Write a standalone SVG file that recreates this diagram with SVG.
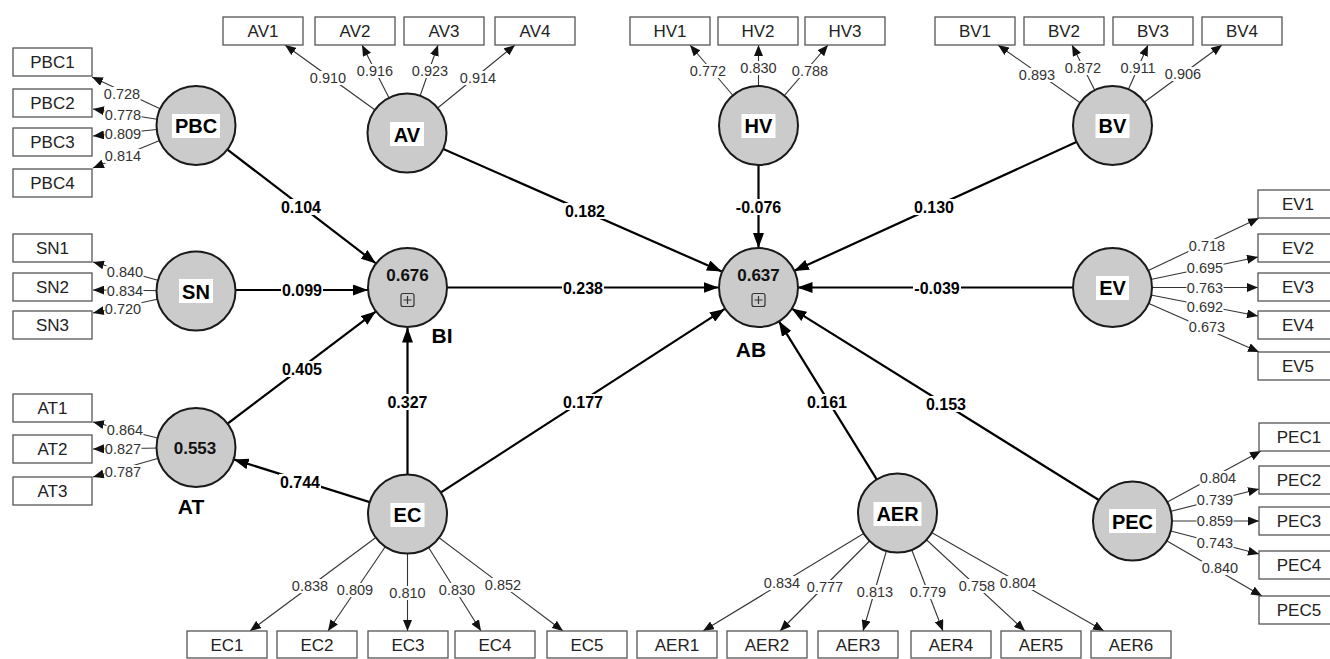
<svg xmlns="http://www.w3.org/2000/svg" width="1330" height="659" viewBox="0 0 1330 659">
<style>
.box rect{fill:#fff;stroke:#555;stroke-width:1.3}
.box text{font-family:"Liberation Sans",Arial,sans-serif;font-size:17px;fill:#222;text-anchor:middle}
.lat circle{fill:#cbcbcb;stroke:#1a1a1a;stroke-width:2}
.lat rect.bg{fill:#fff}
.lat text.n{font-family:"Liberation Sans",Arial,sans-serif;font-size:20px;font-weight:bold;fill:#000;text-anchor:middle}
.lat text.r{font-family:"Liberation Sans",Arial,sans-serif;font-size:17px;font-weight:bold;fill:#111;text-anchor:middle}
.lat text.t{font-family:"Liberation Sans",Arial,sans-serif;font-size:21px;font-weight:bold;fill:#000;text-anchor:middle}
.lat .ic{fill:none;stroke:#333;stroke-width:1.2}
.m{stroke:#333;stroke-width:1.1;fill:none;marker-end:url(#am)}
.s{stroke:#000;stroke-width:2.2;fill:none;marker-end:url(#as)}
.ll rect{fill:#fff}
.ll text{font-family:"Liberation Sans",Arial,sans-serif;font-size:14.5px;fill:#333;text-anchor:middle}
.sl rect{fill:#fff}
.sl text{font-family:"Liberation Sans",Arial,sans-serif;font-size:16px;font-weight:bold;fill:#000;text-anchor:middle}
</style>
<defs>
<marker id="am" viewBox="0 0 11 9" refX="11" refY="4.5" markerWidth="11" markerHeight="9" markerUnits="userSpaceOnUse" orient="auto"><path d="M0,0 L11,4.5 L0,9 z" fill="#111"/></marker>
<marker id="as" viewBox="0 0 15 11" refX="15" refY="5.5" markerWidth="15" markerHeight="11" markerUnits="userSpaceOnUse" orient="auto"><path d="M0,0 L15,5.5 L0,11 z" fill="#000"/></marker>
</defs>
<rect x="0" y="0" width="1330" height="659" fill="#fff"/>

<g id="connectors">
<!-- measurement lines -->
<path class="m" d="M196,125.5 L92,77"/>
<path class="m" d="M196,125.5 L93,109"/>
<path class="m" d="M196,125.5 L93,136"/>
<path class="m" d="M196,125.5 L93,168"/>
<path class="m" d="M196,291 L93,262"/>
<path class="m" d="M196,291 L93,290"/>
<path class="m" d="M196,291 L93,313"/>
<path class="m" d="M196,447.5 L93,422"/>
<path class="m" d="M196,447.5 L93,449"/>
<path class="m" d="M196,447.5 L93,477"/>
<path class="m" d="M407,133 L285,45"/>
<path class="m" d="M407,133 L362,45"/>
<path class="m" d="M407,133 L438,45"/>
<path class="m" d="M407,133 L515,45"/>
<path class="m" d="M758.5,125.5 L690,45"/>
<path class="m" d="M758.5,125.5 L758.5,45"/>
<path class="m" d="M758.5,125.5 L828,45"/>
<path class="m" d="M1112.5,125.5 L998,45"/>
<path class="m" d="M1112.5,125.5 L1072,45"/>
<path class="m" d="M1112.5,125.5 L1148,45"/>
<path class="m" d="M1112.5,125.5 L1222,45"/>
<path class="m" d="M1112.5,287.5 L1259,218"/>
<path class="m" d="M1112.5,287.5 L1258,257"/>
<path class="m" d="M1112.5,287.5 L1258,287.5"/>
<path class="m" d="M1112.5,287.5 L1258,316"/>
<path class="m" d="M1112.5,287.5 L1259,352"/>
<path class="m" d="M1132.5,521 L1261,451"/>
<path class="m" d="M1132.5,521 L1259,489"/>
<path class="m" d="M1132.5,521 L1259,521"/>
<path class="m" d="M1132.5,521 L1259,554"/>
<path class="m" d="M1132.5,521 L1262,596"/>
<path class="m" d="M407.5,514 L250,631"/>
<path class="m" d="M407.5,514 L328,631"/>
<path class="m" d="M407.5,514 L407.5,631"/>
<path class="m" d="M407.5,514 L481,631"/>
<path class="m" d="M407.5,514 L563,631"/>
<path class="m" d="M897.5,513 L703,631"/>
<path class="m" d="M897.5,513 L780,631"/>
<path class="m" d="M897.5,513 L863,631"/>
<path class="m" d="M897.5,513 L943,631"/>
<path class="m" d="M897.5,513 L1025,631"/>
<path class="m" d="M897.5,513 L1104,631"/>
<!-- structural paths -->
<path class="s" d="M196,125.5 L376,263.5"/>
<path class="s" d="M196,290 L368,290"/>
<path class="s" d="M196,447.5 L376,311.3"/>
<path class="s" d="M407.5,514 L407.5,327.5"/>
<path class="s" d="M407.5,514 L233.7,459.4"/>
<path class="s" d="M407.5,287.5 L718.5,287.5"/>
<path class="s" d="M407,133 L721.8,271.6"/>
<path class="s" d="M758.5,125.5 L758.5,248"/>
<path class="s" d="M1112.5,125.5 L793.9,271.1"/>
<path class="s" d="M1112.5,287.5 L797.5,287.5"/>
<path class="s" d="M407.5,514 L724.8,308.9"/>
<path class="s" d="M897.5,513 L778.8,321.1"/>
<path class="s" d="M1132.5,521 L791.5,308.4"/>
<!-- loading labels -->
<g class="ll">
<rect x="103.5" y="87" width="37" height="14"/><text x="122" y="99.2">0.728</text>
<rect x="104.5" y="108" width="37" height="14"/><text x="123" y="120.2">0.778</text>
<rect x="104.5" y="127" width="37" height="14"/><text x="123" y="139.2">0.809</text>
<rect x="104.5" y="149" width="37" height="14"/><text x="123" y="161.2">0.814</text>
<rect x="106.5" y="265" width="37" height="14"/><text x="125" y="277.2">0.840</text>
<rect x="106.5" y="284" width="37" height="14"/><text x="125" y="296.2">0.834</text>
<rect x="104.5" y="302" width="37" height="14"/><text x="123" y="314.2">0.720</text>
<rect x="106.5" y="423" width="37" height="14"/><text x="125" y="435.2">0.864</text>
<rect x="104.5" y="442" width="37" height="14"/><text x="123" y="454.2">0.827</text>
<rect x="104.5" y="465" width="37" height="14"/><text x="123" y="477.2">0.787</text>
<rect x="309.5" y="71" width="37" height="14"/><text x="328" y="83.2">0.910</text>
<rect x="356.5" y="64" width="37" height="14"/><text x="375" y="76.2">0.916</text>
<rect x="411.5" y="64" width="37" height="14"/><text x="430" y="76.2">0.923</text>
<rect x="459.5" y="71" width="37" height="14"/><text x="478" y="83.2">0.914</text>
<rect x="689.5" y="64" width="37" height="14"/><text x="708" y="76.2">0.772</text>
<rect x="740" y="61" width="37" height="14"/><text x="758.5" y="73.2">0.830</text>
<rect x="791.5" y="64" width="37" height="14"/><text x="810" y="76.2">0.788</text>
<rect x="1018.5" y="68" width="37" height="14"/><text x="1037" y="80.2">0.893</text>
<rect x="1064.5" y="61" width="37" height="14"/><text x="1083" y="73.2">0.872</text>
<rect x="1119.5" y="61" width="37" height="14"/><text x="1138" y="73.2">0.911</text>
<rect x="1164.5" y="67" width="37" height="14"/><text x="1183" y="79.2">0.906</text>
<rect x="1188.5" y="239" width="37" height="14"/><text x="1207" y="251.2">0.718</text>
<rect x="1186.5" y="261" width="37" height="14"/><text x="1205" y="273.2">0.695</text>
<rect x="1186.5" y="280.5" width="37" height="14"/><text x="1205" y="292.7">0.763</text>
<rect x="1186.5" y="300" width="37" height="14"/><text x="1205" y="312.2">0.692</text>
<rect x="1188.5" y="320" width="37" height="14"/><text x="1207" y="332.2">0.673</text>
<rect x="1199.5" y="471" width="37" height="14"/><text x="1218" y="483.2">0.804</text>
<rect x="1196.5" y="493" width="37" height="14"/><text x="1215" y="505.2">0.739</text>
<rect x="1196.5" y="514" width="37" height="14"/><text x="1215" y="526.2">0.859</text>
<rect x="1196.5" y="536" width="37" height="14"/><text x="1215" y="548.2">0.743</text>
<rect x="1201.5" y="561" width="37" height="14"/><text x="1220" y="573.2">0.840</text>
<rect x="291.5" y="579" width="37" height="14"/><text x="310" y="591.2">0.838</text>
<rect x="336.5" y="583" width="37" height="14"/><text x="355" y="595.2">0.809</text>
<rect x="389" y="586" width="37" height="14"/><text x="407.5" y="598.2">0.810</text>
<rect x="438.5" y="583" width="37" height="14"/><text x="457" y="595.2">0.830</text>
<rect x="484.5" y="578" width="37" height="14"/><text x="503" y="590.2">0.852</text>
<rect x="763.5" y="576" width="37" height="14"/><text x="782" y="588.2">0.834</text>
<rect x="806.5" y="580" width="37" height="14"/><text x="825" y="592.2">0.777</text>
<rect x="856.5" y="585" width="37" height="14"/><text x="875" y="597.2">0.813</text>
<rect x="909.5" y="585" width="37" height="14"/><text x="928" y="597.2">0.779</text>
<rect x="958.5" y="579" width="37" height="14"/><text x="977" y="591.2">0.758</text>
<rect x="999.5" y="576" width="37" height="14"/><text x="1018" y="588.2">0.804</text>
</g>
<!-- path coefficient labels -->
<g class="sl">
<rect x="280" y="199" width="42" height="16"/><text x="301" y="212.7">0.104</text>
<rect x="281" y="282" width="42" height="16"/><text x="302" y="295.7">0.099</text>
<rect x="281" y="361" width="42" height="16"/><text x="302" y="374.7">0.405</text>
<rect x="386.5" y="394" width="42" height="16"/><text x="407.5" y="407.7">0.327</text>
<rect x="279" y="474" width="42" height="16"/><text x="300" y="487.7">0.744</text>
<rect x="562" y="280" width="42" height="16"/><text x="583" y="293.7">0.238</text>
<rect x="564" y="203" width="42" height="16"/><text x="585" y="216.7">0.182</text>
<rect x="734.5" y="199" width="48" height="16"/><text x="758.5" y="212.7">-0.076</text>
<rect x="913" y="199" width="42" height="16"/><text x="934" y="212.7">0.130</text>
<rect x="913" y="280" width="48" height="16"/><text x="937" y="293.7">-0.039</text>
<rect x="562" y="394" width="42" height="16"/><text x="583" y="407.7">0.177</text>
<rect x="806" y="394" width="42" height="16"/><text x="827" y="407.7">0.161</text>
<rect x="925" y="396" width="42" height="16"/><text x="946" y="409.7">0.153</text>
</g>
</g>

<!-- latent variables -->
<g id="PBC" class="lat"><circle cx="196" cy="125.5" r="39.5"/><rect class="bg" x="172" y="114" width="48" height="24"/><text class="n" x="196" y="133">PBC</text></g>
<g id="SN" class="lat"><circle cx="196" cy="291" r="39.5"/><rect class="bg" x="179" y="279" width="34" height="24"/><text class="n" x="196" y="298.5">SN</text></g>
<g id="AT" class="lat"><circle cx="196" cy="447.5" r="39.5"/><text class="r" x="195" y="454">0.553</text><text class="t" x="191" y="514">AT</text></g>
<g id="AV" class="lat"><circle cx="407" cy="133" r="39.5"/><rect class="bg" x="390" y="122" width="34" height="24"/><text class="n" x="407" y="141.5">AV</text></g>
<g id="BI" class="lat"><circle cx="407.5" cy="287.5" r="39.5"/><text class="r" x="407.5" y="281">0.676</text><rect class="ic" x="401" y="293.5" width="13" height="13" rx="2"/><path class="ic" d="M403.5,300 H411.5 M407.5,296 V304"/><text class="t" x="442" y="343">BI</text></g>
<g id="EC" class="lat"><circle cx="407.5" cy="514" r="39.5"/><rect class="bg" x="390.5" y="503" width="34" height="24"/><text class="n" x="407.5" y="522">EC</text></g>
<g id="HV" class="lat"><circle cx="758.5" cy="125.5" r="39.5"/><rect class="bg" x="741.5" y="114" width="34" height="24"/><text class="n" x="758.5" y="133">HV</text></g>
<g id="AB" class="lat"><circle cx="758.5" cy="287.5" r="39.5"/><text class="r" x="758.5" y="281">0.637</text><rect class="ic" x="752" y="293.5" width="13" height="13" rx="2"/><path class="ic" d="M754.5,300 H762.5 M758.5,296 V304"/><text class="t" x="751" y="357">AB</text></g>
<g id="AER" class="lat"><circle cx="897.5" cy="513" r="39.5"/><rect class="bg" x="873.5" y="502" width="48" height="24"/><text class="n" x="897.5" y="521">AER</text></g>
<g id="BV" class="lat"><circle cx="1112.5" cy="125.5" r="39.5"/><rect class="bg" x="1095.5" y="114" width="34" height="24"/><text class="n" x="1112.5" y="133">BV</text></g>
<g id="EV" class="lat"><circle cx="1112.5" cy="287.5" r="39.5"/><rect class="bg" x="1096" y="276" width="33" height="24"/><text class="n" x="1112.5" y="295">EV</text></g>
<g id="PEC" class="lat"><circle cx="1132.5" cy="521" r="39.5"/><rect class="bg" x="1109" y="509" width="47" height="24"/><text class="n" x="1132.5" y="528.5">PEC</text></g>

<!-- indicators -->
<g id="PBC1" class="box"><rect x="13" y="48" width="79" height="28"/><text x="52.5" y="68">PBC1</text></g>
<g id="PBC2" class="box"><rect x="13" y="89" width="79" height="28"/><text x="52.5" y="109">PBC2</text></g>
<g id="PBC3" class="box"><rect x="13" y="128" width="79" height="28"/><text x="52.5" y="148">PBC3</text></g>
<g id="PBC4" class="box"><rect x="13" y="169" width="79" height="28"/><text x="52.5" y="189">PBC4</text></g>
<g id="SN1" class="box"><rect x="13" y="234" width="79" height="28"/><text x="52.5" y="254">SN1</text></g>
<g id="SN2" class="box"><rect x="13" y="273" width="79" height="28"/><text x="52.5" y="293">SN2</text></g>
<g id="SN3" class="box"><rect x="13" y="311" width="79" height="28"/><text x="52.5" y="331">SN3</text></g>
<g id="AT1" class="box"><rect x="13" y="394" width="79" height="28"/><text x="52.5" y="414">AT1</text></g>
<g id="AT2" class="box"><rect x="13" y="435" width="79" height="28"/><text x="52.5" y="455">AT2</text></g>
<g id="AT3" class="box"><rect x="13" y="477" width="79" height="28"/><text x="52.5" y="497">AT3</text></g>
<g id="AV1" class="box"><rect x="223" y="17" width="80" height="28"/><text x="263" y="37">AV1</text></g>
<g id="AV2" class="box"><rect x="315" y="17" width="80" height="28"/><text x="355" y="37">AV2</text></g>
<g id="AV3" class="box"><rect x="404" y="17" width="80" height="28"/><text x="444" y="37">AV3</text></g>
<g id="AV4" class="box"><rect x="495" y="17" width="80" height="28"/><text x="535" y="37">AV4</text></g>
<g id="HV1" class="box"><rect x="630" y="17" width="80" height="28"/><text x="670" y="37">HV1</text></g>
<g id="HV2" class="box"><rect x="718" y="17" width="80" height="28"/><text x="758" y="37">HV2</text></g>
<g id="HV3" class="box"><rect x="805" y="17" width="80" height="28"/><text x="845" y="37">HV3</text></g>
<g id="BV1" class="box"><rect x="935" y="17" width="80" height="28"/><text x="975" y="37">BV1</text></g>
<g id="BV2" class="box"><rect x="1024" y="17" width="80" height="28"/><text x="1064" y="37">BV2</text></g>
<g id="BV3" class="box"><rect x="1113" y="17" width="80" height="28"/><text x="1153" y="37">BV3</text></g>
<g id="BV4" class="box"><rect x="1202" y="17" width="80" height="28"/><text x="1242" y="37">BV4</text></g>
<g id="EV1" class="box"><rect x="1258" y="190" width="80" height="28"/><text x="1298" y="210">EV1</text></g>
<g id="EV2" class="box"><rect x="1258" y="234" width="80" height="28"/><text x="1298" y="254">EV2</text></g>
<g id="EV3" class="box"><rect x="1258" y="273" width="80" height="28"/><text x="1298" y="293">EV3</text></g>
<g id="EV4" class="box"><rect x="1258" y="311" width="80" height="28"/><text x="1298" y="331">EV4</text></g>
<g id="EV5" class="box"><rect x="1258" y="352" width="80" height="28"/><text x="1298" y="372">EV5</text></g>
<g id="PEC1" class="box"><rect x="1259" y="423" width="80" height="28"/><text x="1299" y="443">PEC1</text></g>
<g id="PEC2" class="box"><rect x="1259" y="466" width="80" height="28"/><text x="1299" y="486">PEC2</text></g>
<g id="PEC3" class="box"><rect x="1259" y="507" width="80" height="28"/><text x="1299" y="527">PEC3</text></g>
<g id="PEC4" class="box"><rect x="1259" y="551" width="80" height="28"/><text x="1299" y="571">PEC4</text></g>
<g id="PEC5" class="box"><rect x="1259" y="596" width="80" height="28"/><text x="1299" y="616">PEC5</text></g>
<g id="EC1" class="box"><rect x="187" y="631" width="80" height="27"/><text x="227" y="651">EC1</text></g>
<g id="EC2" class="box"><rect x="277" y="631" width="80" height="27"/><text x="317" y="651">EC2</text></g>
<g id="EC3" class="box"><rect x="368" y="631" width="80" height="27"/><text x="408" y="651">EC3</text></g>
<g id="EC4" class="box"><rect x="455" y="631" width="80" height="27"/><text x="495" y="651">EC4</text></g>
<g id="EC5" class="box"><rect x="547" y="631" width="80" height="27"/><text x="587" y="651">EC5</text></g>
<g id="AER1" class="box"><rect x="637" y="631" width="80" height="27"/><text x="677" y="651">AER1</text></g>
<g id="AER2" class="box"><rect x="727" y="631" width="80" height="27"/><text x="767" y="651">AER2</text></g>
<g id="AER3" class="box"><rect x="818" y="631" width="80" height="27"/><text x="858" y="651">AER3</text></g>
<g id="AER4" class="box"><rect x="911" y="631" width="80" height="27"/><text x="951" y="651">AER4</text></g>
<g id="AER5" class="box"><rect x="1001" y="631" width="80" height="27"/><text x="1041" y="651">AER5</text></g>
<g id="AER6" class="box"><rect x="1091" y="631" width="80" height="27"/><text x="1131" y="651">AER6</text></g>
</svg>
